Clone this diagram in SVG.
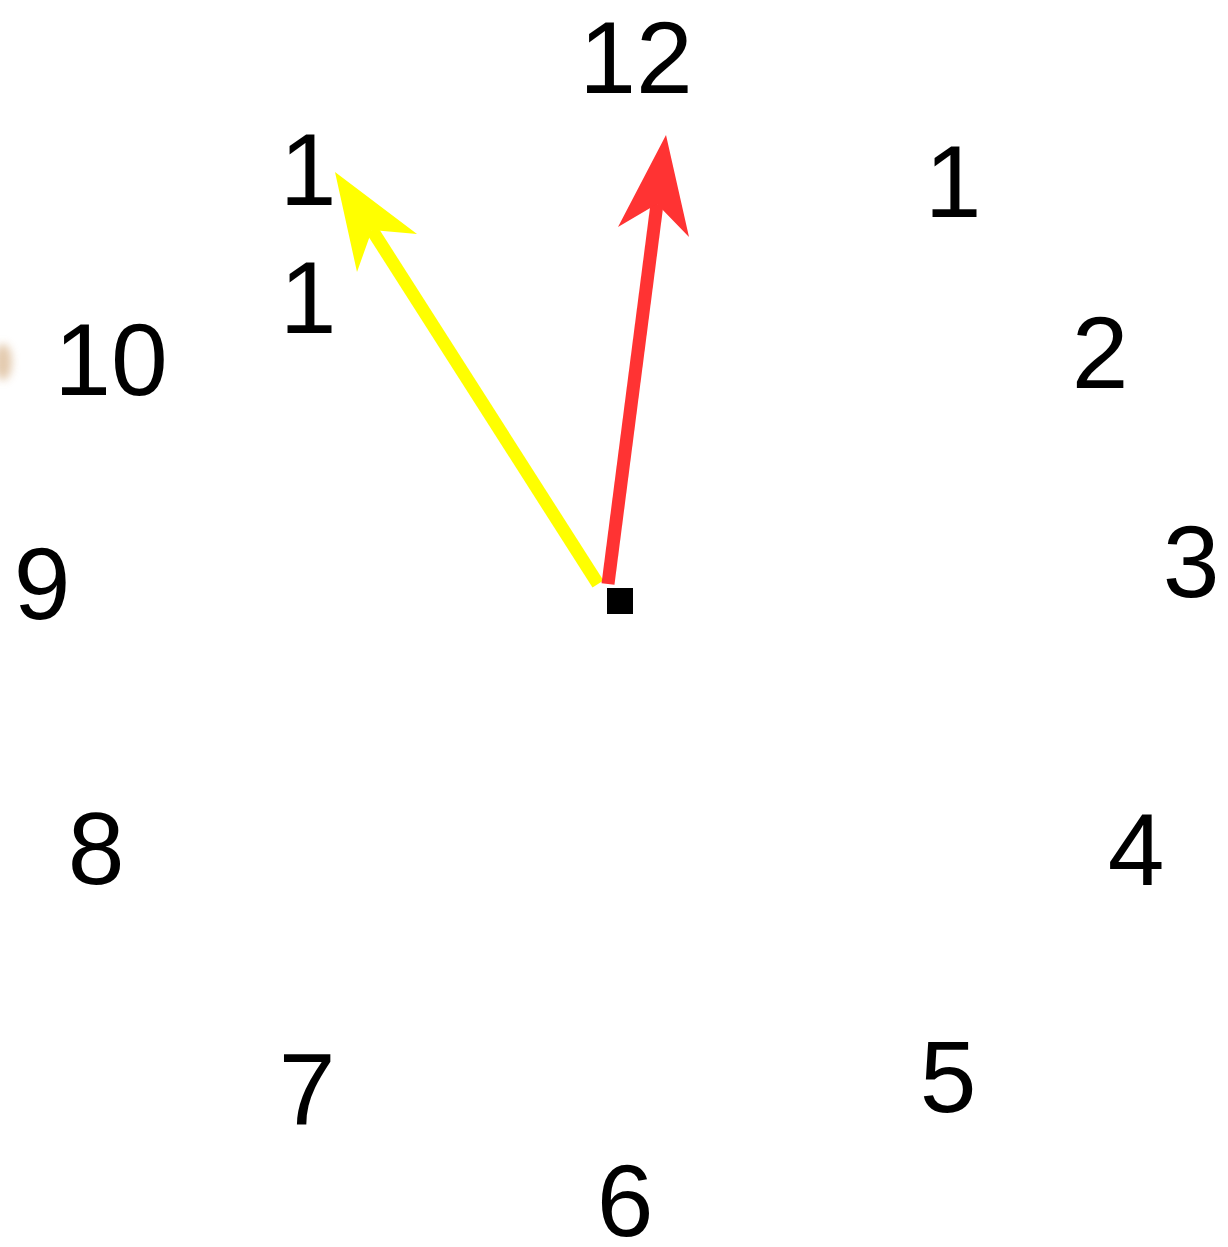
<svg xmlns="http://www.w3.org/2000/svg" width="1228" height="1247" viewBox="0 0 1228 1247">
<defs>
<style>
.num{font-family:"Liberation Sans",Arial,sans-serif;font-size:102px;fill:#000;text-anchor:middle}
</style>
<filter id="blur" x="-1" y="-1" width="3" height="3"><feGaussianBlur stdDeviation="4"/></filter>
</defs>
<rect width="1228" height="1247" fill="#fff"/>
<g id="smudge"><ellipse cx="3" cy="362" rx="9" ry="18" fill="#d8b48c" opacity="0.7" filter="url(#blur)"/></g>
<g id="numbers">
<text class="num" x="636" y="93">12</text>
<text class="num" x="953" y="217">1</text>
<text class="num" x="1100" y="388">2</text>
<text class="num" x="1191" y="597">3</text>
<text class="num" x="1136" y="885">4</text>
<text class="num" x="948" y="1112">5</text>
<text class="num" x="625" y="1236">6</text>
<text class="num" x="307" y="1125">7</text>
<text class="num" x="96" y="884">8</text>
<text class="num" x="42" y="619">9</text>
<text class="num" x="111" y="395">10</text>
<text class="num" x="308" y="205">1</text>
<text class="num" x="308" y="333">1</text>
</g>
<g id="hands">
<g id="hour-hand">
<line x1="598" y1="584" x2="372" y2="230" stroke="#ffff00" stroke-width="13"/>
<polygon points="335,172 417,234 372,230 357,272" fill="#ffff00"/>
</g>
<g id="minute-hand">
<line x1="608" y1="584" x2="657" y2="204" stroke="#ff3333" stroke-width="13"/>
<polygon points="666,135 689,237 657,204 618,227" fill="#ff3333"/>
</g>
</g>
<g id="center"><rect x="607" y="588" width="26" height="26" fill="#000"/></g>
</svg>
